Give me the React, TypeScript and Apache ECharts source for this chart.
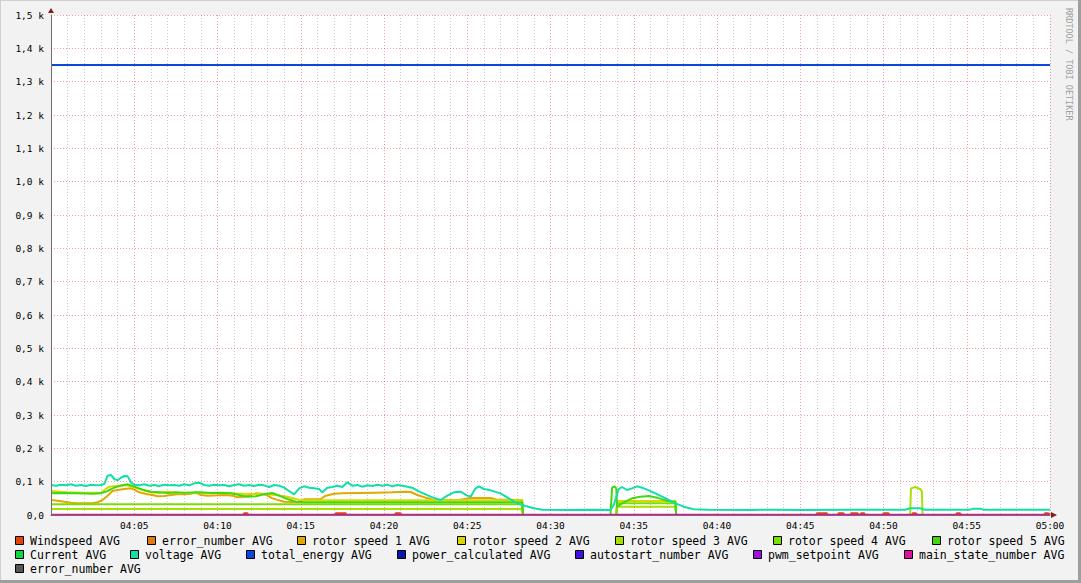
import React, { useEffect, useRef } from "react";
import * as echarts from "echarts";

// ---- data (x = minutes after 04:00, y = value) ----
const yTicks = [0, 100, 200, 300, 400, 500, 600, 700, 800, 900, 1000, 1100, 1200, 1300, 1400, 1500];
const xTickMinutes = [0, 5, 10, 15, 20, 25, 30, 35, 40, 45, 50, 55, 60];

const windspeed: [number, number][] = [
  [0, 0], [11.55, 0], [11.6, 5], [11.8, 5], [11.85, 0], [17.05, 0], [17.1, 5], [17.7, 5], [17.75, 0],
  [20.65, 0], [20.7, 5], [21.0, 5], [21.05, 0], [45.95, 0], [46.0, 5], [46.6, 5], [46.65, 0],
  [47.25, 0], [47.3, 5], [47.6, 5], [47.65, 0], [48.0, 0], [48.05, 5], [48.45, 5], [48.5, 0],
  [48.6, 0], [48.65, 5], [48.85, 5], [48.9, 0], [49.95, 0], [50.0, 5], [50.3, 5], [50.35, 0],
  [51.7, 0], [51.75, 5], [51.95, 5], [52.0, 0], [54.35, 0], [54.4, 5], [54.6, 5], [54.65, 0],
  [59.65, 0], [59.7, 5], [59.9, 5], [60, 0],
];
const errorNumber: [number, number][] = [];
const rotor1: [number, number][] = [
  [0, 45], [0.4, 43], [0.8, 40], [1.2, 37], [1.6, 35], [2.0, 35], [2.5, 35], [2.8, 38], [3.1, 45],
  [3.4, 58], [3.7, 72], [4.0, 75], [4.4, 78], [4.8, 80], [5.0, 76], [5.3, 68], [5.7, 63], [6.1, 60],
  [6.4, 56], [6.8, 57], [7.2, 60], [7.6, 62], [8.1, 62], [8.4, 64], [8.7, 68], [9.0, 60], [9.4, 58],
  [10.0, 59], [10.5, 60], [10.9, 58], [11.2, 53], [11.6, 55], [12.0, 60], [12.3, 65], [12.7, 64],
  [13.0, 58], [13.3, 50], [13.7, 44], [14.0, 40], [14.5, 39], [15.0, 40], [15.2, 47], [16.2, 48],
  [16.5, 58], [17.0, 64], [17.5, 65], [18.5, 66], [19.5, 67], [20.5, 68], [21.2, 70], [21.6, 69],
  [22.0, 60], [22.5, 52], [23.0, 45], [24.5, 45], [25.2, 51], [26.4, 51], [26.8, 46], [28.3, 45],
  [28.35, 0], [60, 0],
];
const rotor2: [number, number][] = [
  [0, 72], [0.5, 70], [1, 68], [2, 67], [3, 67], [3.2, 75], [3.5, 85], [4.0, 88], [4.5, 90], [5.0, 83],
  [5.5, 75], [6.0, 68], [6.5, 66], [7.0, 70], [7.5, 66], [8.5, 65], [9.5, 66], [10.5, 65], [11.5, 64],
  [12.5, 63], [13.5, 60], [14.2, 55], [14.7, 48], [15.0, 44], [28.3, 44], [28.35, 0], [33.95, 0],
  [34.0, 42], [37.5, 42], [37.55, 0], [60, 0],
];
const rotor3: [number, number][] = [
  [0, 18], [28.3, 18], [28.35, 0], [33.95, 0], [34.0, 25], [37.5, 25], [37.55, 0], [51.6, 0],
  [51.65, 80], [51.9, 84], [52.2, 78], [52.3, 72], [52.35, 0], [60, 0],
];
const rotor4: [number, number][] = [
  [0, 32], [28.3, 32], [28.35, 0], [33.95, 0], [34.0, 35], [37.5, 35], [37.55, 0], [60, 0],
];
const rotor5: [number, number][] = [
  [0, 65], [0.5, 66], [1.5, 65], [2.5, 64], [3.0, 65], [3.4, 72], [3.8, 82], [4.2, 88], [4.6, 92],
  [5.0, 85], [5.5, 76], [6.0, 70], [6.5, 68], [7.0, 66], [7.5, 68], [8.0, 67], [9.0, 68], [9.6, 66],
  [10.2, 67], [10.8, 65], [11.3, 60], [11.8, 55], [12.3, 56], [12.8, 62], [13.3, 66], [13.7, 58],
  [14.2, 48], [14.7, 40], [15.2, 38], [28.3, 38], [28.35, 0], [33.6, 0], [33.7, 82], [33.85, 86],
  [33.95, 80], [34.0, 25], [34.4, 38], [34.9, 50], [35.4, 55], [35.9, 57], [36.4, 52], [36.9, 44],
  [37.3, 40], [37.5, 40], [37.55, 0], [60, 0],
];
const current: [number, number][] = [];
const voltage: [number, number][] = [
  [0, 90], [0.3, 88], [0.6, 91], [0.9, 89], [1.2, 92], [1.5, 88], [1.8, 90], [2.1, 87], [2.4, 91],
  [2.7, 89], [3.0, 90], [3.2, 93], [3.4, 118], [3.6, 120], [3.8, 108], [4.0, 104], [4.2, 112],
  [4.4, 117], [4.6, 116], [4.8, 98], [5.0, 91], [5.3, 89], [5.6, 92], [5.9, 88], [6.2, 90], [6.5, 87],
  [6.8, 91], [7.1, 89], [7.4, 90], [7.7, 88], [8.0, 92], [8.3, 89], [8.6, 95], [8.9, 97], [9.2, 90],
  [9.5, 88], [9.8, 91], [10.1, 89], [10.4, 90], [10.7, 86], [11.0, 90], [11.3, 92], [11.6, 88],
  [11.9, 90], [12.2, 87], [12.5, 91], [12.8, 89], [13.1, 84], [13.4, 90], [13.7, 88], [14.0, 82],
  [14.3, 72], [14.6, 62], [14.9, 80], [15.2, 86], [15.5, 82], [15.8, 80], [16.1, 78], [16.3, 68],
  [16.6, 82], [16.9, 84], [17.2, 88], [17.5, 84], [17.8, 98], [18.1, 88], [18.4, 90], [18.7, 85],
  [19.0, 89], [19.3, 87], [19.6, 91], [19.9, 88], [20.2, 91], [20.5, 86], [20.8, 90], [21.1, 88],
  [21.4, 85], [21.7, 82], [22.0, 73], [22.4, 64], [22.8, 55], [23.1, 50], [23.4, 45], [23.8, 58],
  [24.2, 68], [24.6, 70], [25.0, 58], [25.2, 55], [25.5, 80], [25.7, 86], [26.0, 78], [26.4, 74],
  [27.0, 65], [27.5, 50], [28.0, 35], [28.5, 27], [29.0, 20], [29.5, 16], [31.0, 15], [32.5, 16],
  [33.6, 15], [33.8, 30], [34.1, 78], [34.3, 84], [34.6, 75], [34.9, 80], [35.2, 86], [35.5, 82],
  [35.9, 74], [36.3, 65], [36.7, 55], [37.1, 45], [37.5, 35], [38.0, 25], [38.6, 17], [39.5, 16],
  [42.0, 15], [43.5, 16], [45.0, 15], [48.0, 16], [51.3, 16], [51.6, 20], [52.2, 20], [52.5, 16],
  [55.2, 16], [55.4, 19], [55.8, 19], [56.0, 16], [60, 16],
];
const totalEnergy: [number, number][] = [[0, 1350], [60, 1350]];
const powerCalculated: [number, number][] = [];
const autostartNumber: [number, number][] = [];
const pwmSetpoint: [number, number][] = [];
const mainStateNumber: [number, number][] = [[0, 1], [60, 1]];
const errorNumber2: [number, number][] = [];

const seriesNames = [
  "Windspeed AVG", "error_number AVG", "rotor speed 1 AVG", "rotor speed 2 AVG", "rotor speed 3 AVG",
  "rotor speed 4 AVG", "rotor speed 5 AVG", "Current AVG", "voltage AVG", "total_energy AVG",
  "power_calculated AVG", "autostart_number AVG", "pwm_setpoint AVG", "main_state_number AVG", "error_number AVG",
];
const seriesData = [
  windspeed, errorNumber, rotor1, rotor2, rotor3, rotor4, rotor5, current, voltage, totalEnergy,
  powerCalculated, autostartNumber, pwmSetpoint, mainStateNumber, errorNumber2,
];
const seriesColors = [
  "#E8400E", "#E07A10", "#E0A800", "#D8D800", "#A8E000", "#78E000", "#40D810", "#10D840", "#10E0A8",
  "#0C48E0", "#0818A8", "#4010E0", "#A010E0", "#E010A0", "#555555",
];

// legend layout (style, not data)
const legendPos: [number, number][] = [
  [15, 541], [147, 541], [297, 541], [457, 541], [615, 541], [773, 541], [932, 541],
  [15, 555], [130, 555], [246, 555], [397, 555], [575, 555], [753, 555], [904, 555],
  [15, 569],
];

const GL = 51, GT = 15, GW = 999, GH = 500;
const MONO = "DejaVu Sans Mono";

function fmtTime(m: number): string {
  if (m === 0) return "";
  const h = 4 + Math.floor(m / 60);
  const mm = m % 60;
  return (h < 10 ? "0" : "") + h + ":" + (mm < 10 ? "0" : "") + mm;
}
function fmtY(v: number): string {
  if (v === 0) return "0,0";
  return (v / 1000).toFixed(1).replace(".", ",") + " k";
}

export default function App() {
  const ref = useRef<HTMLDivElement>(null);
  useEffect(() => {
    if (!ref.current) return;
    const chart = echarts.init(ref.current, null, { renderer: "svg" });
    const graphics: any[] = [];
    // frame shading
    graphics.push({ type: "rect", shape: { x: 0, y: 0, width: 1081, height: 583 }, style: { fill: "#F2F2F2" }, z: -10, silent: true });
    graphics.push({ type: "line", shape: { x1: 0, y1: 0.5, x2: 1081, y2: 0.5 }, style: { stroke: "#CFCFCF", lineWidth: 1 }, silent: true });
    graphics.push({ type: "line", shape: { x1: 0.5, y1: 0, x2: 0.5, y2: 583 }, style: { stroke: "#CFCFCF", lineWidth: 1 }, silent: true });
    graphics.push({ type: "line", shape: { x1: 0, y1: 581.5, x2: 1081, y2: 581.5 }, style: { stroke: "#9E9E9E", lineWidth: 3 }, silent: true });
    graphics.push({ type: "line", shape: { x1: 1079.5, y1: 0, x2: 1079.5, y2: 583 }, style: { stroke: "#9E9E9E", lineWidth: 3 }, silent: true });
    // arrows
    graphics.push({ type: "polygon", shape: { points: [[GL - 3, GT - 2], [GL + 3, GT - 2], [GL, GT - 7]] }, style: { fill: "#801F1F" }, z: 10, silent: true });
    graphics.push({ type: "polygon", shape: { points: [[GL + GW + 1, GT + GH - 3], [GL + GW + 1, GT + GH + 3], [GL + GW + 7, GT + GH]] }, style: { fill: "#801F1F" }, z: 10, silent: true });
    // watermark
    graphics.push({
      type: "text", x: 1069, y: 8, rotation: -Math.PI / 2,
      style: { text: "RRDTOOL / TOBI OETIKER", fill: "#A0A0A0", font: `8.5px "${MONO}"`, textAlign: "left", textVerticalAlign: "middle" },
      silent: true,
    });
    // legend
    seriesNames.forEach((name, i) => {
      const [lx, ly] = legendPos[i];
      graphics.push({ type: "rect", shape: { x: lx + 0.5, y: ly - 4.5, width: 8, height: 8 }, style: { fill: seriesColors[i], stroke: "#000", lineWidth: 1 }, silent: true });
      graphics.push({ type: "text", x: lx + 15, y: ly, style: { text: name, fill: "#000", font: `11.5px "${MONO}"`, textAlign: "left", textVerticalAlign: "middle" }, silent: true });
    });

    const option: any = {
      animation: false,
      backgroundColor: "#F2F2F2",
      grid: { left: GL, top: GT, width: GW, height: GH, show: true, backgroundColor: "#FFFFFF", borderWidth: 0 },
      xAxis: {
        type: "value", min: xTickMinutes[0], max: xTickMinutes[xTickMinutes.length - 1], interval: 5, z: 5,
        axisLine: { show: true, onZero: false, lineStyle: { color: "#707070", width: 1 } },
        axisTick: { show: false },
        axisLabel: { formatter: (v: number) => fmtTime(v), fontFamily: MONO, fontSize: 9.5, color: "#000", margin: 5, showMaxLabel: true, hideOverlap: false },
        splitLine: { show: true, lineStyle: { color: "rgba(222,79,79,0.55)", type: [1, 2], width: 1 } },
        minorTick: { show: false, splitNumber: 5 },
        minorSplitLine: { show: true, lineStyle: { color: "rgba(143,143,143,0.45)", type: [1, 2], width: 1 } },
      },
      yAxis: {
        type: "value", min: yTicks[0], max: yTicks[yTicks.length - 1], interval: 100, z: 5,
        axisLine: { show: true, lineStyle: { color: "#707070", width: 1 } },
        axisTick: { show: false },
        axisLabel: { formatter: (v: number) => fmtY(v), fontFamily: MONO, fontSize: 9.5, color: "#000", margin: 7, showMaxLabel: true },
        splitLine: { show: true, lineStyle: { color: "rgba(222,79,79,0.55)", type: [1, 2], width: 1 } },
      },
      series: seriesNames.map((name, i) => ({
        name, type: "line", data: seriesData[i], showSymbol: false, silent: true,
        lineStyle: { color: seriesColors[i], width: 2 }, itemStyle: { color: seriesColors[i] },
        z: 2,
      })),
      graphic: graphics,
    };
    chart.setOption(option);
    return () => chart.dispose();
  }, []);
  return <div ref={ref} style={{ position: "fixed", left: 0, top: 0, width: 1081, height: 583 }} />;
}
